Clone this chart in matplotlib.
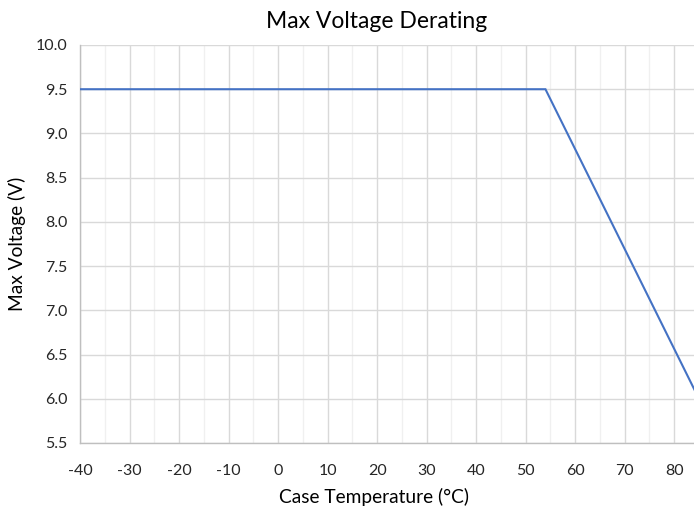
import matplotlib
matplotlib.use("Agg")
import matplotlib.pyplot as plt
from matplotlib.ticker import MultipleLocator

# derating curve: flat until knee, then linear drop
temps = [-40, 54, 85]
volts = [9.5, 9.5, 6.0]

x_ticks = list(range(-40, 81, 10))
y_ticks = [5.5, 6.0, 6.5, 7.0, 7.5, 8.0, 8.5, 9.0, 9.5, 10.0]

plt.rcParams["font.family"] = ["Lato", "DejaVu Sans"]
plt.rcParams["axes.unicode_minus"] = False

fig = plt.figure(figsize=(6.94, 5.13), dpi=100)
ax = fig.add_axes([80 / 694, 1 - 443 / 513, 614 / 694, 398 / 513])

ax.plot(temps, volts, color="#4472C4", linewidth=1.5, solid_joinstyle="miter", zorder=3)

ax.set_xlim(-40, 84)
ax.set_ylim(5.5, 10.0)
ax.set_xticks(x_ticks)
ax.set_yticks(y_ticks)
ax.set_yticklabels([f"{v:.1f}" for v in y_ticks])
ax.xaxis.set_minor_locator(MultipleLocator(5))

ax.grid(which="major", color="#d9d9d9", linewidth=1.0)
ax.grid(which="minor", axis="x", color="#f0f0f0", linewidth=1.0)
ax.set_axisbelow(True)
ax.tick_params(which="both", length=0, labelsize=11.5, colors="#262626")
ax.tick_params(axis="x", pad=15)
ax.tick_params(axis="y", pad=9)

for side in ("top", "right"):
    ax.spines[side].set_visible(False)
for side in ("left", "bottom"):
    ax.spines[side].set_color("#bfbfbf")
    ax.spines[side].set_linewidth(1.0)

fig.text(377 / 694, 1 - 22 / 513, "Max Voltage Derating", ha="center", va="center",
         fontsize=16.5, color="#000000")
fig.text(374 / 694, 1 - 497 / 513, "Case Temperature (°C)", ha="center", va="center",
         fontsize=13.8, color="#000000")
fig.text(17 / 694, 1 - 244 / 513, "Max Voltage (V)", ha="center", va="center",
         rotation=90, fontsize=13.8, color="#000000")

fig.savefig("out.png", dpi=100)
